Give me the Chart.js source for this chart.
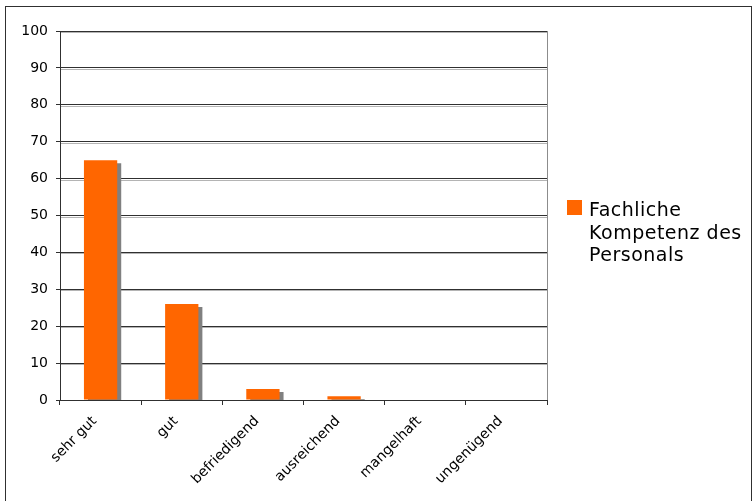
<!DOCTYPE html>
<html>
<head>
<meta charset="utf-8">
<script src="https://cdn.jsdelivr.net/npm/chart.js@4.4.1/dist/chart.umd.min.js"></script>
<style>
  html, body { margin: 0; padding: 0; background: #fff; }
  canvas { display: block; }
</style>
</head>
<body>
<canvas id="chart" width="754" height="501"></canvas>
<script>
const categories = ['sehr gut', 'gut', 'befriedigend', 'ausreichend', 'mangelhaft', 'ungenügend'];
const values = [65, 26, 3, 1, 0, 0];
const seriesName = 'Fachliche Kompetenz des Personals';
const legendLines = ['Fachliche', 'Kompetenz des', 'Personals'];
const yMin = 0;
const yMax = 100;
const yStep = 10;

const barColor = '#FF6600';
const fontFamily = '"DejaVu Sans", Verdana, sans-serif';

// frame round the whole picture, gray border of the plot, gridline shadows
const decor = {
    id: 'decor',
    beforeDatasetsDraw(chart) {
        const { ctx, chartArea: a, scales: { y } } = chart;
        ctx.save();
        ctx.strokeStyle = '#b4b4b4';
        ctx.lineWidth = 1;
        y.ticks.forEach(t => {
            if (t.value === yMin) return;
            const py = Math.round(y.getPixelForValue(t.value)) + 1.5;
            ctx.beginPath();
            ctx.moveTo(a.left + 1, py);
            ctx.lineTo(a.right, py);
            ctx.stroke();
        });
        ctx.strokeStyle = '#8c8c8c';
        ctx.beginPath();
        ctx.moveTo(Math.round(a.right) + 0.5, a.top);
        ctx.lineTo(Math.round(a.right) + 0.5, a.bottom);
        ctx.stroke();
        ctx.restore();
    },
    beforeDatasetDraw(chart) {
        const ctx = chart.ctx;
        ctx.save();
        ctx.shadowColor = '#808080';
        ctx.shadowOffsetX = 4;
        ctx.shadowOffsetY = 3;
        ctx.shadowBlur = 0;
    },
    afterDatasetDraw(chart) {
        chart.ctx.restore();
    },
    afterDraw(chart) {
        const ctx = chart.ctx;
        ctx.save();
        ctx.strokeStyle = '#303030';
        ctx.lineWidth = 1;
        ctx.strokeRect(5.5, 6.5, 746, 520);

        // legend
        ctx.fillStyle = barColor;
        ctx.fillRect(567, 200, 15, 15);
        ctx.fillStyle = '#000';
        ctx.font = '19px ' + fontFamily;
        ctx.letterSpacing = '0.5px';
        ctx.textAlign = 'left';
        ctx.textBaseline = 'alphabetic';
        legendLines.forEach((line, i) => {
            ctx.fillText(line, 589, 216 + i * 22.5);
        });
        ctx.restore();
    }
};

new Chart(document.getElementById('chart'), {
    type: 'bar',
    data: {
        labels: categories,
        datasets: [{
            label: seriesName,
            data: values,
            backgroundColor: barColor,
            borderWidth: 0,
            barPercentage: 0.41,
            categoryPercentage: 1
        }]
    },
    options: {
        responsive: false,
        animation: false,
        events: [],
        layout: { padding: { top: 31, right: 207, left: 0, bottom: 0 } },
        plugins: {
            legend: { display: false },
            tooltip: { enabled: false }
        },
        scales: {
            x: {
                afterFit(scale) { scale.height = 101; },
                grid: {
                    offset: true,
                    drawOnChartArea: false,
                    drawTicks: true,
                    tickLength: 5,
                    color: '#303030'
                },
                border: { color: '#303030' },
                ticks: {
                    autoSkip: false,
                    minRotation: 45,
                    maxRotation: 45,
                    padding: 8,
                    labelOffset: -6,
                    color: '#000',
                    font: { family: fontFamily, size: 14 }
                }
            },
            y: {
                min: yMin,
                max: yMax,
                afterFit(scale) { scale.width = 60; },
                grid: {
                    color: '#303030',
                    tickLength: 4
                },
                border: { color: '#303030' },
                ticks: {
                    stepSize: yStep,
                    padding: 8,
                    color: '#000',
                    font: { family: fontFamily, size: 14 }
                }
            }
        }
    },
    plugins: [decor]
});
</script>
</body>
</html>
